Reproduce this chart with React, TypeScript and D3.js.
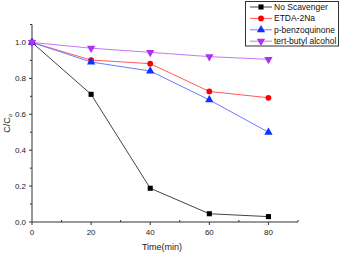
import React, { useEffect, useRef } from 'react';
import * as d3 from 'd3';

const times = [0, 20, 40, 60, 80];
const seriesNames = ['No Scavenger', 'ETDA-2Na', 'p-benzoquinone', 'tert-butyl alcohol'];
const noScavenger = [1.0, 0.711, 0.188, 0.046, 0.03];
const etda = [1.0, 0.902, 0.882, 0.727, 0.692];
const benzoquinone = [1.0, 0.891, 0.841, 0.68, 0.5];
const tertButyl = [1.0, 0.968, 0.945, 0.921, 0.906];
const xTicks = [0, 20, 40, 60, 80];
const yTicks = [0.0, 0.2, 0.4, 0.6, 0.8, 1.0];

const colors = ['#000000', '#ff0000', '#1030ff', '#b030f0'];
const lineColors = ['#444444', '#ff5a5a', '#6a7cff', '#c878f5'];
const markers = [d3.symbolSquare, d3.symbolCircle, d3.symbolTriangle, d3.symbolTriangle];
const markerSizes = [26, 26, 30, 30];

const App = () => {
  const svgRef = useRef<SVGSVGElement | null>(null);

  useEffect(() => {
    if (!svgRef.current) return;
    const svg = d3.select(svgRef.current);
    svg.selectAll('*').remove();

    const values = [noScavenger, etda, benzoquinone, tertButyl];
    const margin = { left: 32, top: 24.5, right: 42, bottom: 31 };
    const width = 340;
    const height = 253;

    const x = d3.scaleLinear().domain([0, 90]).range([margin.left, width - margin.right]);
    const y = d3.scaleLinear().domain([0, 1.1]).range([height - margin.bottom, margin.top]);

    const axisColor = '#333';
    const font = 'Arial, "Liberation Sans", sans-serif';

    // x axis
    const xAxis = svg.append('g').attr('transform', `translate(0,${y(0)})`);
    xAxis.append('line').attr('x1', x(0)).attr('x2', x(90)).attr('stroke', axisColor);
    d3.range(0, 91, 10).forEach((t) => {
      const major = t % 20 === 0 && t <= 80;
      xAxis.append('line')
        .attr('x1', x(t)).attr('x2', x(t))
        .attr('y1', 0).attr('y2', major ? 3 : -2)
        .attr('stroke', axisColor);
    });
    xAxis.selectAll('text.tick')
      .data(xTicks)
      .enter()
      .append('text')
      .attr('x', (d) => x(d))
      .attr('y', 13)
      .attr('text-anchor', 'middle')
      .attr('font-size', '8px')
      .attr('font-family', font)
      .attr('fill', '#222')
      .text((d) => d);

    // y axis
    const yAxis = svg.append('g').attr('transform', `translate(${x(0)},0)`);
    yAxis.append('line').attr('y1', y(0)).attr('y2', y(1.1)).attr('stroke', axisColor);
    d3.range(0, 12).forEach((i) => {
      const t = i / 10;
      const major = i % 2 === 0;
      yAxis.append('line')
        .attr('x1', 0).attr('x2', major ? -3 : -2)
        .attr('y1', y(t)).attr('y2', y(t))
        .attr('stroke', axisColor);
    });
    yAxis.selectAll('text.tick')
      .data(yTicks)
      .enter()
      .append('text')
      .attr('x', -6)
      .attr('y', (d) => y(d) + 3)
      .attr('text-anchor', 'end')
      .attr('font-size', '8px')
      .attr('font-family', font)
      .attr('fill', '#222')
      .text((d) => d.toFixed(1));

    // axis labels
    svg.append('text')
      .attr('x', 162)
      .attr('y', 250)
      .attr('text-anchor', 'middle')
      .attr('font-size', '9px')
      .attr('font-family', font)
      .attr('fill', '#222')
      .text('Time(min)');

    const yl = svg.append('text')
      .attr('transform', `translate(10,${(y(0) + y(1.1)) / 2}) rotate(-90)`)
      .attr('text-anchor', 'middle')
      .attr('font-size', '9px')
      .attr('font-family', font)
      .attr('fill', '#222');
    yl.append('tspan').text('C/C');
    yl.append('tspan').attr('font-size', '6px').attr('dy', 2).text('o');

    // series
    const line = d3.line<number>()
      .x((_, i) => x(times[i]))
      .y((d) => y(d));

    values.forEach((vals, s) => {
      svg.append('path')
        .datum(vals)
        .attr('fill', 'none')
        .attr('stroke', lineColors[s])
        .attr('stroke-width', 1)
        .attr('d', line);
    });

    const drawMarker = (g: any, s: number, cx: number, cy: number) => {
      const sym = d3.symbol().type(markers[s]).size(markerSizes[s]);
      g.append('path')
        .attr('d', sym() as string)
        .attr('transform', `translate(${cx},${cy})${s === 3 ? ' rotate(180)' : ''}`)
        .attr('fill', colors[s]);
    };

    values.forEach((vals, s) => {
      vals.forEach((v, i) => drawMarker(svg, s, x(times[i]), y(v)));
    });

    // legend
    const legend = svg.append('g');
    legend.append('rect')
      .attr('x', 245.5).attr('y', 1.5)
      .attr('width', 93).attr('height', 44.5)
      .attr('fill', 'white')
      .attr('stroke', '#333');
    seriesNames.forEach((name, s) => {
      const ly = 7 + s * 11.4;
      legend.append('line')
        .attr('x1', 250).attr('x2', 272)
        .attr('y1', ly).attr('y2', ly)
        .attr('stroke', lineColors[s]);
      drawMarker(legend, s, 261, ly);
      legend.append('text')
        .attr('x', 274)
        .attr('y', ly + 3)
        .attr('font-size', '8.5px')
        .attr('font-family', font)
        .attr('fill', '#111')
        .text(name);
    });
  }, []);

  return (
    <svg
      ref={svgRef}
      width={340}
      height={253}
      style={{ position: 'absolute', left: 0, top: 0, background: 'white' }}
    />
  );
};

export default App;
